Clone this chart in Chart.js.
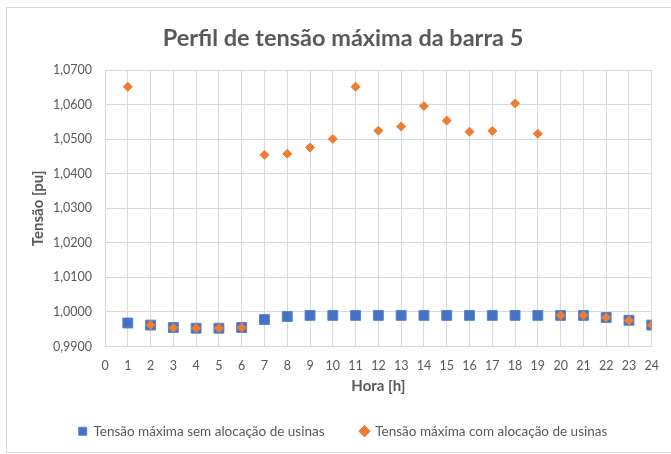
<!DOCTYPE html>
<html>
<head>
<meta charset="utf-8">
<script src="https://cdn.jsdelivr.net/npm/chart.js@4/dist/chart.umd.min.js"></script>
<style>
  html, body { margin: 0; padding: 0; background: #ffffff; }
  #wrap { position: relative; width: 671px; height: 454px; overflow: hidden; }
  #frame { position: absolute; left: 6px; top: 7px; width: 700px; height: 446px; border: 1px solid #d9d9d9; box-sizing: border-box; }
  canvas { position: absolute; left: 0; top: 0; }
</style>
</head>
<body>
<div id="wrap">
  <div id="frame"></div>
  <canvas id="c" width="671" height="454"></canvas>
</div>
<script>
const hours = [1,2,3,4,5,6,7,8,9,10,11,12,13,14,15,16,17,18,19,20,21,22,23,24];
const semAlocacao = [0.9968,0.9962,0.9955,0.9953,0.9953,0.9955,0.9978,0.9987,0.9990,0.9990,0.9990,0.9990,0.9990,0.9990,0.9990,0.9990,0.9990,0.9990,0.9990,0.9990,0.9990,0.9984,0.9976,0.9962];
const comAlocacao = [1.0652,0.9962,0.9954,0.9953,0.9953,0.9955,1.0455,1.0458,1.0476,1.0501,1.0652,1.0525,1.0537,1.0596,1.0554,1.0522,1.0524,1.0604,1.0516,0.9990,0.9990,0.9984,0.9975,0.9962];
const seriesNames = ['Tensão máxima sem alocação de usinas', 'Tensão máxima com alocação de usinas'];
const titleText = 'Perfil de tensão máxima da barra 5';
const xTitle = 'Hora [h]';
const yTitle = 'Tensão [pu]';

const FONT = 'Lato, "Open Sans", sans-serif';
const GRAY = '#595959';
const GRID = '#d9d9d9';

const toPts = (vals) => hours.map((h, i) => ({x: h, y: vals[i]}));

new Chart(document.getElementById('c'), {
  type: 'scatter',
  data: {
    datasets: [
      {
        label: seriesNames[0],
        data: toPts(semAlocacao),
        backgroundColor: '#4472C4',
        borderColor: '#5b85cf',
        borderWidth: 1,
        pointStyle: 'rect',
        pointRadius: 7,
        pointHoverRadius: 7,
        order: 1
      },
      {
        label: seriesNames[1],
        data: toPts(comAlocacao),
        backgroundColor: '#ED7D31',
        borderColor: '#ED7D31',
        borderWidth: 1,
        pointStyle: 'rectRot',
        pointRadius: 4.5,
        pointHoverRadius: 4.5,
        order: 0
      }
    ]
  },
  options: {
    responsive: false,
    animation: false,
    layout: { padding: { left: 33, right: 18, top: 0, bottom: 6 } },
    plugins: {
      tooltip: { enabled: false },
      title: {
        display: true,
        text: titleText,
        color: GRAY,
        font: { family: FONT, size: 23.5, weight: 'bold' },
        padding: { top: 24, bottom: 18 }
      },
      legend: {
        position: 'bottom',
        align: 'center',
        labels: {
          usePointStyle: true,
          boxWidth: 8,
          boxHeight: 8,
          padding: 36,
          color: GRAY,
          font: { family: FONT, size: 13.5 },
          sort: (a, b) => a.datasetIndex - b.datasetIndex
        }
      }
    },
    scales: {
      x: {
        type: 'linear',
        min: 0,
        max: 24,
        ticks: { stepSize: 1, color: GRAY, padding: 12, font: { family: FONT, size: 12.5 } },
        grid: { color: GRID, drawTicks: false },
        border: { color: GRID },
        title: { display: true, text: xTitle, color: GRAY, font: { family: FONT, size: 15, weight: 'bold' }, padding: { top: 0, bottom: -7 } },
        afterFit: (s) => { s.height = 42; }
      },
      y: {
        min: 0.99,
        max: 1.07,
        ticks: {
          stepSize: 0.01,
          color: GRAY,
          padding: 13,
          font: { family: FONT, size: 12.5 },
          callback: (v) => v.toFixed(4).replace('.', ',')
        },
        grid: { color: GRID, drawTicks: false },
        border: { color: GRID },
        title: { display: true, text: yTitle, color: GRAY, font: { family: FONT, size: 15, weight: 'bold' }, padding: { top: -4, bottom: 0 } },
        afterFit: (s) => { s.width = 72; }
      }
    }
  }
});
</script>
</body>
</html>
